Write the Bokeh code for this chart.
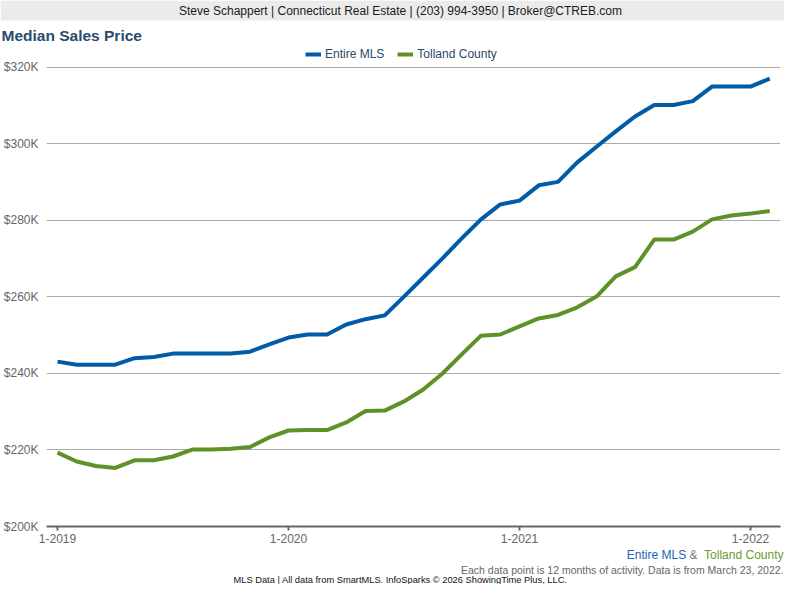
from bokeh.plotting import figure
from bokeh.layouts import column
from bokeh.models import (FixedTicker, PrintfTickFormatter, Legend, LegendItem,
                          Label, BoxAnnotation, Range1d)
from bokeh.embed import file_html
from bokeh.resources import INLINE

# ---------------- data ----------------
months = ["1-2019", "2-2019", "3-2019", "4-2019", "5-2019", "6-2019",
          "7-2019", "8-2019", "9-2019", "10-2019", "11-2019", "12-2019",
          "1-2020", "2-2020", "3-2020", "4-2020", "5-2020", "6-2020",
          "7-2020", "8-2020", "9-2020", "10-2020", "11-2020", "12-2020",
          "1-2021", "2-2021", "3-2021", "4-2021", "5-2021", "6-2021",
          "7-2021", "8-2021", "9-2021", "10-2021", "11-2021", "12-2021",
          "1-2022", "2-2022"]

# median sales price, thousands of dollars
entire_mls = [243.1, 242.3, 242.3, 242.3, 244.0, 244.3, 245.2, 245.2, 245.2, 245.2, 245.7, 247.6,
              249.4, 250.2, 250.2, 252.8, 254.2, 255.2, 260.1, 265.1, 270.1, 275.3, 280.3, 284.2,
              285.2, 289.2, 290.1, 295.2, 299.3, 303.3, 307.2, 310.2, 310.2, 311.2, 315.0, 315.0,
              315.0, 317.1]
tolland_county = [219.3, 217.0, 215.8, 215.3, 217.3, 217.3, 218.3, 220.1, 220.1, 220.3, 220.8, 223.3,
                  225.1, 225.2, 225.2, 227.2, 230.2, 230.3, 232.7, 235.8, 240.0, 245.0, 249.9, 250.2,
                  252.3, 254.4, 255.3, 257.3, 260.1, 265.4, 267.8, 275.0, 275.0, 277.1, 280.3, 281.3,
                  281.8, 282.5]

y_ticks = [200, 220, 240, 260, 280, 300, 320]
x_tick_labels = ["1-2019", "1-2020", "1-2021", "1-2022"]

series_names = ["Entire MLS", "Tolland County"]
series_colors = ["#005BA8", "#5E9128"]

header_text = "Steve Schappert | Connecticut Real Estate | (203) 994-3950 | Broker@CTREB.com"
title_text = "Median Sales Price"
note_text = "Each data point is 12 months of activity. Data is from March 23, 2022."
footer_text = "MLS Data | All data from SmartMLS. InfoSparks \u00a9 2026 ShowingTime Plus, LLC."

W = 784
FONT = "Liberation Sans"


def no_align(f):
    if "frame_align" in f.properties():
        f.frame_align = False
    return f


def text_panel(height):
    """A figure whose frame covers the whole canvas; data units == pixels (y from top)."""
    f = figure(width=W, height=height, output_backend="svg", toolbar_location=None,
               x_range=Range1d(0, W), y_range=Range1d(height, 0),
               x_axis_type=None, y_axis_type=None,
               min_border=0, min_border_left=0, min_border_right=0,
               min_border_top=0, min_border_bottom=0,
               outline_line_color=None, background_fill_color="white",
               border_fill_color="white")
    return no_align(f)


def add_label(f, text, x, y, size, color, align="left", style="normal", font=FONT):
    f.add_layout(Label(x=x, y=y, text=text, text_font=font, text_font_size=size,
                       text_color=color, text_align=align, text_baseline="middle",
                       text_font_style=style))


# ---------------- header (band + title) ----------------
HEAD_H = 46
head = text_panel(HEAD_H)
head.add_layout(BoxAnnotation(left=0, right=W, top=0, bottom=20,
                              fill_color="#EBEBEB", fill_alpha=1, line_color=None))
add_label(head, header_text, 400, 10.5, "12px", "#1A1A1A", align="center")
add_label(head, title_text, 1, 34.5, "15.5px", "#2A4A6E", style="bold")

# ---------------- main chart ----------------
x = list(range(len(months)))
x_tick_pos = [months.index(t) for t in x_tick_labels]

p = figure(width=W, height=501, output_backend="svg", toolbar_location=None,
           x_range=Range1d(-0.5714, 37.558), y_range=Range1d(200, 325.49),
           min_border_left=46, min_border_right=4, min_border_top=0,
           min_border_bottom=21, background_fill_color="white",
           border_fill_color="white", outline_line_color=None)
no_align(p)

r1 = p.line(x, entire_mls, line_color=series_colors[0], line_width=4, line_join="round")
r2 = p.line(x, tolland_county, line_color=series_colors[1], line_width=4, line_join="round")

p.yaxis.ticker = FixedTicker(ticks=y_ticks)
p.yaxis.formatter = PrintfTickFormatter(format="$%dK")
p.yaxis.axis_line_color = None
p.yaxis.major_tick_line_color = None
p.yaxis.major_tick_in = 0
p.yaxis.major_tick_out = 0
p.yaxis.minor_tick_line_color = None
p.yaxis.minor_tick_in = 0
p.yaxis.minor_tick_out = 0
p.yaxis.major_label_standoff = 8
p.yaxis.major_label_text_font = FONT
p.yaxis.major_label_text_font_size = "12px"
p.yaxis.major_label_text_color = "#666666"

p.xaxis.ticker = FixedTicker(ticks=x_tick_pos)
p.xaxis.major_label_overrides = {pos: lab for pos, lab in zip(x_tick_pos, x_tick_labels)}
p.xaxis.axis_line_color = "#666666"
p.xaxis.axis_line_width = 2
p.xaxis.major_tick_line_color = "#666666"
p.xaxis.major_tick_line_width = 2
p.xaxis.major_tick_in = 0
p.xaxis.major_tick_out = 4
p.xaxis.minor_tick_line_color = None
p.xaxis.minor_tick_out = 0
p.xaxis.major_label_standoff = 3
p.xaxis.major_label_text_font = FONT
p.xaxis.major_label_text_font_size = "12px"
p.xaxis.major_label_text_color = "#666666"

p.xgrid.visible = False
p.ygrid.ticker = FixedTicker(ticks=y_ticks)
p.ygrid.grid_line_color = "#AAAAAA"
p.ygrid.grid_line_width = 1

legend = Legend(items=[LegendItem(label=series_names[0], renderers=[r1]),
                       LegendItem(label=series_names[1], renderers=[r2])],
                orientation="horizontal", location=(259, 465),
                glyph_width=16, glyph_height=14, label_height=14,
                label_standoff=4, spacing=13, padding=0, margin=0,
                border_line_color=None, background_fill_alpha=0,
                label_text_font=FONT, label_text_font_size="12px",
                label_text_color="#2A4868")
p.add_layout(legend)

# ---------------- footer notes ----------------
foot = text_panel(37)
add_label(foot, series_names[0], 626.3, 7, "12px", "#2266AA", align="left")
add_label(foot, "&", 693, 7, "12px", "#777777", align="center")
add_label(foot, series_names[1], 783, 7, "12px", "#6A9B34", align="right")
add_label(foot, note_text, 783, 22.5, "10.5px", "#666666", align="right")
add_label(foot, footer_text, 400, 32.5, "9.3px", "#111111", align="center")

layout = column(head, p, foot, spacing=0)

open("out.html", "w").write(file_html(layout, INLINE))
